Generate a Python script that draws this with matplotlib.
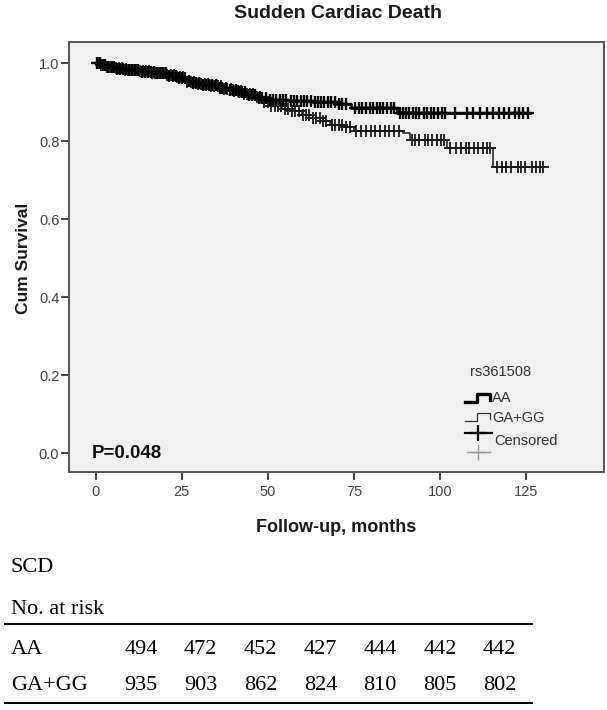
import numpy as np
import matplotlib
matplotlib.use("Agg")
import matplotlib.pyplot as plt
from matplotlib.lines import Line2D

# ---------------- data ----------------
title = "Sudden Cardiac Death"
groups = ["AA", "GA+GG"]
legend_title = "rs361508"
p_text = "P=0.048"

# Kaplan-Meier step points (time in months, cumulative survival)
aa_times = [0, 1.5, 3, 6, 9, 13, 17, 21, 24, 26.5, 28, 31, 35, 38, 41, 44, 47, 50, 56, 63, 70, 74, 87.5]
aa_surv = [1.0, 0.995, 0.99, 0.986, 0.982, 0.978, 0.974, 0.968, 0.962, 0.955, 0.948, 0.943, 0.937,
           0.932, 0.925, 0.918, 0.911, 0.906, 0.903, 0.899, 0.895, 0.884, 0.871]
aa_end = 126.0

ga_times = [0, 1, 2.5, 5, 8, 12, 16, 20, 23, 26, 29, 33, 37, 40, 43, 46, 48.5, 51, 54, 57, 60, 63,
            66, 68, 72, 75, 89.3, 91.3, 101.9, 115.3]
ga_surv = [1.0, 0.996, 0.99, 0.987, 0.983, 0.979, 0.975, 0.970, 0.964, 0.952, 0.946, 0.940, 0.933,
           0.928, 0.921, 0.912, 0.900, 0.890, 0.883, 0.876, 0.866, 0.860, 0.852, 0.842, 0.835, 0.827,
           0.820, 0.803, 0.782, 0.733]
ga_end = 130.0

# censored observation times
aa_cens = [0.5, 1.2, 2.0, 2.8, 3.5, 4.6, 5.4, 6.3, 7.1, 8.0, 8.9, 9.7, 10.6, 11.4, 12.3, 13.5, 14.2,
           15.1, 16.0, 16.8, 17.9, 18.7, 19.5, 20.4, 21.3, 22.5, 23.2, 24.1, 25.0, 25.9, 27.2, 28.3,
           29.1, 30.0, 31.2, 32.1, 33.0, 33.8, 34.9, 36.0, 36.8, 37.7, 38.9, 39.8, 40.6, 41.7, 42.5,
           43.4, 44.6, 45.3, 46.2, 47.4, 48.3, 49.5, 50.6, 51.4, 52.3, 53.5, 54.4, 55.2, 56.6, 57.5,
           58.4, 59.6, 60.5, 61.3, 62.4, 63.6, 64.5, 65.3, 66.4, 67.5, 68.3, 69.4, 70.6, 71.5, 72.6,
           75.2, 76.4, 77.3, 78.5, 79.6, 80.4, 81.6, 82.7, 83.5, 84.6, 85.8, 86.7, 88.3, 89.2, 90.1,
           91.0, 92.0, 93.1, 94.0, 95.2, 96.1, 97.3, 98.2, 99.4, 100.5, 101.3, 104.4, 107.7, 109.6,
           111.6, 113.5, 115.5, 117.0, 118.5, 120.0, 121.8, 122.8, 124.1, 125.6]
ga_cens = [0.8, 1.6, 2.3, 3.2, 4.1, 4.9, 5.8, 6.7, 7.5, 8.4, 9.3, 10.2, 11.0, 11.9, 12.8, 13.8, 14.7,
           15.5, 16.4, 17.3, 18.2, 19.1, 19.9, 20.8, 21.8, 22.7, 23.6, 24.5, 25.4, 26.6, 27.7, 28.6,
           29.6, 30.5, 31.6, 32.5, 33.4, 34.3, 35.4, 36.3, 37.3, 38.2, 39.3, 40.2, 41.2, 42.1, 43.0,
           44.0, 44.9, 45.8, 46.8, 47.8, 48.8, 49.9, 51.0, 52.0, 52.9, 53.9, 55.0, 55.9, 57.0, 58.0,
           59.0, 60.1, 61.0, 62.0, 63.1, 64.0, 65.0, 66.1, 67.0, 68.6, 69.6, 70.6, 71.6, 72.7, 73.7,
           75.5, 77.0, 78.5, 80.0, 81.2, 82.5, 84.0, 85.2, 86.5, 88.0, 91.8, 92.8, 94.0, 95.5, 96.6,
           97.8, 99.0, 100.2, 101.2, 103.0, 104.6, 106.0, 107.5, 108.5, 109.8, 111.0, 112.4, 113.5,
           114.6, 116.5, 118.0, 119.2, 120.6, 122.5, 123.6, 124.8, 126.8, 127.8, 129.0, 130.0]

x_ticks = [0, 25, 50, 75, 100, 125]
y_ticks = [0.0, 0.2, 0.4, 0.6, 0.8, 1.0]
x_label = "Follow-up, months"
y_label = "Cum Survival"

# number-at-risk table
table_title = "SCD"
table_subtitle = "No. at risk"
risk_aa = [494, 472, 452, 427, 444, 442, 442]
risk_ga = [935, 903, 862, 824, 810, 805, 802]

# ---------------- figure ----------------
W, H = 607, 710
fig = plt.figure(figsize=(W / 100, H / 100), dpi=100)
sans = ["Liberation Sans", "DejaVu Sans"]
serif = ["Liberation Serif", "DejaVu Serif"]
plt.rcParams["font.family"] = sans

def fx(px):
    return px / W

def fy(py):
    return 1 - py / H

ax_l, ax_r, ax_t, ax_b = 69, 604, 42, 472
ax = fig.add_axes([fx(ax_l), fy(ax_b), fx(ax_r) - fx(ax_l), fy(ax_t) - fy(ax_b)])
ax.set_facecolor("#f0f0f0")
ax.set_xlim(-7.75, 147.6)
ax.set_ylim(-0.0487, 1.054)

def km(times, surv, end, cens, lw, mew, color):
    t = list(times) + [end]
    s = list(surv) + [surv[-1]]
    ax.step(t, s, where="post", color=color, lw=lw, zorder=3)
    idx = np.searchsorted(np.array(times), np.array(cens), side="right") - 1
    ys = np.array(surv)[idx]
    ax.plot(cens, ys, linestyle="none", marker="+", markersize=8, mew=mew, color=color, zorder=4)

km(ga_times, ga_surv, ga_end, ga_cens, 1.1, 1.3, "#1a1a1a")
km(aa_times, aa_surv, aa_end, aa_cens, 2.0, 1.7, "#000000")

for sp in ax.spines.values():
    sp.set_color("#555555")
    sp.set_linewidth(1.4)
ax.set_xticks(x_ticks)
ax.set_yticks(y_ticks)
ax.set_xticklabels([str(v) for v in x_ticks])
ax.set_yticklabels([f"{v:.1f}" for v in y_ticks])
ax.tick_params(axis="both", direction="out", length=6, width=1.4, color="#444444",
               labelcolor="#444444", labelsize=10.5)
ax.tick_params(axis="y", pad=1)
ax.tick_params(axis="x", pad=3)

# texts
fig.text(fx(338), fy(13), title, ha="center", va="center", fontsize=14, fontweight="bold",
         color="#1a1a1a")
fig.text(fx(336), fy(528), x_label, ha="center", va="center", fontsize=13, fontweight="bold",
         color="#1a1a1a")
fig.text(fx(24), fy(258), y_label, ha="center", va="center", rotation=90, fontsize=12.5,
         fontweight="bold", color="#1a1a1a")
fig.text(fx(92), fy(453), p_text, ha="left", va="center", fontsize=13.5, fontweight="bold",
         color="#111111")

# legend (manual, SPSS style)
def fline(xs, ys, **kw):
    fig.add_artist(Line2D([fx(x) for x in xs], [fy(y) for y in ys], **kw))

lfs = 10.5
fig.text(fx(470), fy(372), legend_title, ha="left", va="center", fontsize=lfs, color="#333333")
fline([465, 477, 477, 490, 490], [402, 402, 394, 394, 400], color="black", lw=2.4)
fig.text(fx(492), fy(398), groups[0], ha="left", va="center", fontsize=lfs, color="#333333")
fline([465, 477, 477, 490, 490], [421, 421, 413, 413, 419], color="#333333", lw=0.9)
fig.text(fx(492), fy(418), groups[1], ha="left", va="center", fontsize=lfs, color="#333333")
fline([465, 492], [433, 433], color="black", lw=1.6)
fline([478], [433], color="black", marker="+", markersize=11, mew=1.6, linestyle="none")
fline([467, 490], [452, 452], color="#999999", lw=1.0)
fline([478], [452], color="#999999", marker="+", markersize=11, mew=1.0, linestyle="none")
fig.text(fx(494), fy(441), "Censored", ha="left", va="center", fontsize=lfs, color="#333333")

# number-at-risk table
tfs = 16
fig.text(fx(11), fy(568), table_title, ha="left", va="center", fontsize=tfs, family=serif)
fig.text(fx(11), fy(609), table_subtitle, ha="left", va="center", fontsize=tfs, family=serif)
fline([5, 532], [624, 624], color="black", lw=1.4)
col0, dcol = 141, 59.8
for row_y, name, vals in [(650, groups[0], risk_aa), (685, groups[1], risk_ga)]:
    fig.text(fx(11), fy(row_y), name, ha="left", va="center", fontsize=tfs, family=serif)
    for i, v in enumerate(vals):
        fig.text(fx(col0 + i * dcol), fy(row_y), str(v), ha="center", va="center",
                 fontsize=tfs, family=serif)
fline([5, 532], [703, 703], color="black", lw=1.4)

fig.savefig("out.png", dpi=100)
